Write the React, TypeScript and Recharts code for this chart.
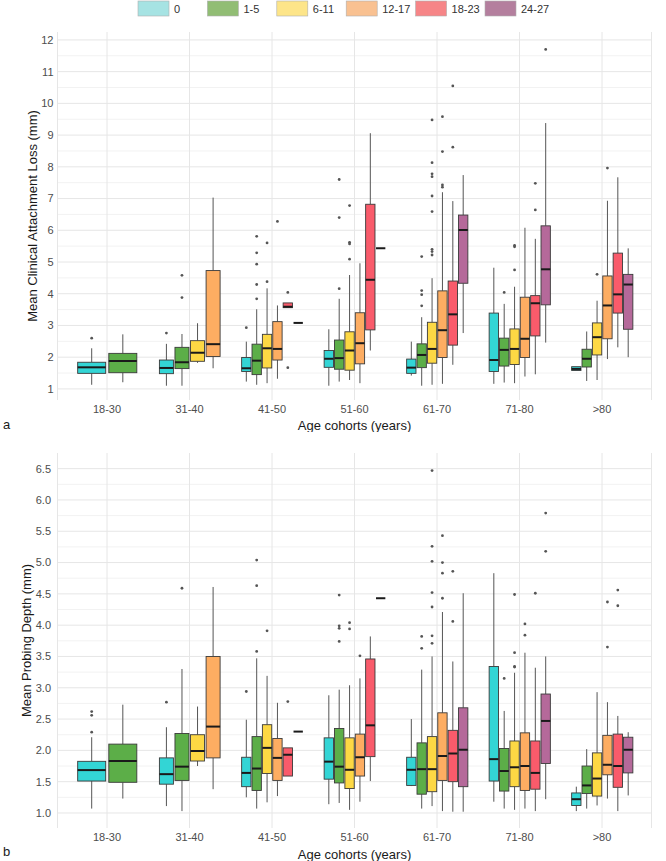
import { ComposedChart, Bar, XAxis, YAxis, CartesianGrid } from "recharts"

const cohorts = ["18-30", "31-40", "41-50", "51-60", "61-70", "71-80", ">80"]
const toothGroups = ["0", "1-5", "6-11", "12-17", "18-23", "24-27"]
const boxFills = ["#33d5d5", "#5cae48", "#fdd844", "#fdad62", "#f95b6b", "#b5699a"]
const keyFills = ["#a6e3e3", "#91bd74", "#fde589", "#f9c191", "#f68587", "#b47f9e"]

// [lower whisker, q1, median, q3, upper whisker, outliers], one entry per cohort
type Stat = [number, number, number, number, number, number[]] | null

// a: mean clinical attachment loss (mm)
const cal0: Stat[] = [
  [1.13, 1.49, 1.68, 1.84, 2.28, [2.6]],
  [1.1, 1.48, 1.66, 1.91, 2.42, [2.76]],
  [1.23, 1.55, 1.65, 1.99, 2.49, [2.93]],
  [1.1, 1.68, 1.95, 2.21, 2.88, []],
  [1.42, 1.49, 1.67, 1.94, 2.49, []],
  [1.16, 1.55, 1.91, 3.39, 4.82, []],
  [1.58, 1.58, 1.63, 1.7, 1.7, []],
]
const cal1to5: Stat[] = [
  [1.21, 1.51, 1.88, 2.12, 2.72, []],
  [1.1, 1.64, 1.84, 2.31, 2.73, [3.88, 4.58]],
  [1.13, 1.45, 1.89, 2.41, 3.51, [3.84, 4.29, 4.93, 5.29, 5.81]],
  [1.23, 1.62, 1.97, 2.54, 3.84, [4.16, 6.4, 7.6]],
  [1.1, 1.67, 2.07, 2.42, 3.26, [3.62, 3.97, 4.1, 5.17]],
  [1.2, 1.72, 2.23, 2.6, 3.68, [4.04]],
  [1.25, 1.69, 1.95, 2.25, 2.81, []],
]
const cal6to11: Stat[] = [
  null,
  [1.82, 1.87, 2.14, 2.52, 3.07, []],
  [1.18, 1.66, 2.28, 2.72, 4.17, [4.38, 5.6]],
  [1.28, 1.59, 2.21, 2.8, 4.59, [5.09, 5.57, 5.62, 6.78]],
  [1.13, 1.81, 2.26, 3.1, 4.49, [5.22, 5.33, 5.4, 6.59, 7.08, 7.69, 7.78, 8.13, 9.48]],
  [1.18, 1.77, 2.26, 2.89, 4.22, [4.75, 5.48, 5.52]],
  [1.28, 2.07, 2.63, 3.08, 3.78, [4.61]],
]
const cal12to17: Stat[] = [
  null,
  [1.65, 2.02, 2.41, 4.73, 7.03, []],
  [1.32, 1.91, 2.26, 3.12, 3.63, [6.28]],
  [1.18, 1.79, 2.44, 3.4, 4.96, []],
  [1.16, 1.99, 2.85, 4.09, 7.2, [7.36, 7.43, 8.48, 9.58]],
  [1.39, 1.99, 2.58, 3.89, 6.08, []],
  [1.94, 2.58, 3.63, 4.56, 6.93, [7.96]],
]
const cal18to23: Stat[] = [
  null,
  null,
  [3.56, 3.56, 3.59, 3.71, 3.71, [1.67, 4.04]],
  [2.21, 2.86, 4.44, 6.82, 9.06, []],
  [1.76, 2.38, 3.35, 4.4, 6.92, [8.62, 10.55]],
  [1.46, 2.67, 3.7, 3.94, 5.73, [6.64, 7.48]],
  [2.31, 3.39, 3.98, 5.28, 7.67, []],
]
const cal24to27: Stat[] = [
  null,
  null,
  [3.08, 3.08, 3.08, 3.08, 3.08, []],
  [5.43, 5.43, 5.43, 5.43, 5.43, []],
  [2.76, 4.33, 6.01, 6.48, 7.74, []],
  [2.46, 3.65, 4.77, 6.14, 9.38, [11.7]],
  [2.0, 2.88, 4.29, 4.61, 5.43, []],
]

// b: mean probing depth (mm)
const pd0: Stat[] = [
  [1.07, 1.51, 1.685, 1.825, 2.21, [2.29, 2.56, 2.62]],
  [1.11, 1.46, 1.62, 1.88, 2.37, [2.77]],
  [1.25, 1.42, 1.64, 1.89, 2.49, [2.94]],
  [1.14, 1.54, 1.82, 2.2, 2.88, []],
  [1.43, 1.44, 1.69, 1.89, 2.5, []],
  [1.18, 1.51, 1.86, 3.34, 4.83, []],
  [1.03, 1.12, 1.22, 1.32, 1.42, []],
]
const pd1to5: Stat[] = [
  [1.23, 1.49, 1.83, 2.1, 2.73, []],
  [1.03, 1.52, 1.74, 2.27, 3.3, [4.59]],
  [1.07, 1.36, 1.71, 2.22, 3.47, [3.58, 4.63, 5.04]],
  [1.16, 1.48, 1.74, 2.35, 2.97, [3.74, 3.95, 3.99, 4.48]],
  [1.07, 1.3, 1.7, 2.12, 3.29, [3.63, 3.82]],
  [1.07, 1.35, 1.67, 2.03, 2.63, [3.15]],
  [1.07, 1.31, 1.44, 1.75, 2.02, []],
]
const pd6to11: Stat[] = [
  null,
  [1.75, 1.83, 1.99, 2.25, 2.7, []],
  [1.17, 1.63, 2.04, 2.41, 3.19, [3.91]],
  [1.05, 1.39, 1.69, 2.2, 3.04, [3.94, 4.04]],
  [1.11, 1.34, 1.7, 2.22, 3.5, [3.71, 3.83, 4.29, 4.52, 5.02, 5.26, 6.47]],
  [1.05, 1.42, 1.73, 2.15, 3.24, [3.33, 3.34, 3.56, 4.49]],
  [1.12, 1.27, 1.55, 1.96, 2.93, []],
]
const pd12to17: Stat[] = [
  null,
  [1.38, 1.88, 2.38, 3.5, 4.61, []],
  [1.27, 1.52, 1.88, 2.19, 2.76, []],
  [1.18, 1.59, 1.89, 2.26, 3.15, [3.51]],
  [1.03, 1.52, 1.91, 2.6, 4.21, [4.43, 4.83, 5.0, 5.43]],
  [1.07, 1.36, 1.75, 2.28, 3.56, [3.84, 4.02]],
  [1.23, 1.61, 1.77, 2.24, 2.77, [3.65, 4.37]],
]
const pd18to23: Stat[] = [
  null,
  null,
  [1.59, 1.59, 1.93, 2.04, 2.04, [2.78]],
  [1.51, 1.9, 2.4, 3.46, 3.82, []],
  [1.02, 1.5, 1.95, 2.32, 3.42, [4.06, 4.86]],
  [1.03, 1.38, 1.64, 2.15, 3.32, [4.51]],
  [1.03, 1.41, 1.75, 2.26, 2.55, [4.31, 4.56]],
]
const pd24to27: Stat[] = [
  null,
  null,
  [2.3, 2.3, 2.3, 2.3, 2.3, []],
  [4.43, 4.43, 4.43, 4.43, 4.43, []],
  [1.02, 1.42, 2.01, 2.68, 4.51, []],
  [1.22, 1.79, 2.47, 2.9, 3.5, [5.18, 5.79]],
  [1.28, 1.64, 2.01, 2.21, 2.29, []],
]

const calDomain: [number, number] = [0.65, 12.25]
const calTicks = [1, 2, 3, 4, 5, 6, 7, 8, 9, 10, 11, 12]
const calMinor = [1.5, 2.5, 3.5, 4.5, 5.5, 6.5, 7.5, 8.5, 9.5, 10.5, 11.5]
const pdDomain: [number, number] = [0.76, 6.75]
const pdTicks = [1, 1.5, 2, 2.5, 3, 3.5, 4, 4.5, 5, 5.5, 6, 6.5]
const pdMinor = [1.25, 1.75, 2.25, 2.75, 3.25, 3.75, 4.25, 4.75, 5.25, 5.75, 6.25]

const FONT = "'Liberation Sans', Arial, Helvetica, sans-serif"

function buildRows(series: Stat[][], domain: [number, number]) {
  return cohorts.map((cohort, c) => ({
    cohort,
    span: domain,
    boxes: series
      .map((s, idx) => ({ idx, s: s[c] }))
      .filter((b) => b.s !== null),
  }))
}

// the bar spans the whole y domain, so its geometry gives the y scale
function makeBoxShape(domain: [number, number]) {
  return (props: any) => {
    const { x, y, width, height, payload } = props
    const toY = (v: number) => y + (height * (domain[1] - v)) / (domain[1] - domain[0])
    const boxes = payload.boxes as { idx: number; s: Stat }[]
    const slot = (width * 0.75) / boxes.length
    const bw = slot * 0.9
    const start = x + width / 2 - width * 0.375
    return (
      <g>
        {boxes.map((b, i) => {
          const [lo, q1, med, q3, hi, out] = b.s as [number, number, number, number, number, number[]]
          const cx = start + slot * (i + 0.5)
          const left = cx - bw / 2
          return (
            <g key={i}>
              <line x1={cx} x2={cx} y1={toY(hi)} y2={toY(q3)} stroke="#555" strokeWidth={1} />
              <line x1={cx} x2={cx} y1={toY(q1)} y2={toY(lo)} stroke="#555" strokeWidth={1} />
              <rect
                x={left}
                y={toY(q3)}
                width={bw}
                height={toY(q1) - toY(q3)}
                fill={boxFills[b.idx]}
                stroke="#3a3a3a"
                strokeWidth={0.9}
              />
              <line x1={left} x2={left + bw} y1={toY(med)} y2={toY(med)} stroke="#1a1a1a" strokeWidth={2} />
              {out.map((o, k) => (
                <circle key={k} cx={cx} cy={toY(o)} r={1.4} fill="#555" />
              ))}
            </g>
          )
        })}
      </g>
    )
  }
}

interface PanelProps {
  series: Stat[][]
  domain: [number, number]
  ticks: number[]
  minor: number[]
  yLabel: string
  labelX: number
  top: number
  height: number
  marginTop: number
  xAxisHeight: number
  tickMargin: number
  decimals: number
}

function Panel(p: PanelProps) {
  const rows = buildRows(p.series, p.domain)
  const midY = (p.marginTop + p.height - p.xAxisHeight) / 2
  return (
    <div style={{ position: "absolute", left: 0, top: p.top }}>
      <ComposedChart
        width={666}
        height={p.height}
        data={rows}
        margin={{ top: p.marginTop, right: 14.5, bottom: 0, left: 0 }}
        barCategoryGap={0}
      >
        <CartesianGrid horizontalValues={p.minor} vertical={false} stroke="#f2f2f2" strokeWidth={1} />
        <CartesianGrid horizontalValues={p.ticks} stroke="#e6e6e6" strokeWidth={1} />
        <XAxis
          dataKey="cohort"
          interval={0}
          padding={{ left: 8.25, right: 8.25 }}
          axisLine={false}
          tickLine={false}
          tickSize={0}
          tickMargin={5}
          height={p.xAxisHeight}
          tick={{ fontSize: 11, fill: "#4d4d4d" }}
          label={{ value: "Age cohorts (years)", position: "insideBottom", offset: 2, fontSize: 13, fill: "#1a1a1a" }}
        />
        <YAxis
          width={57.5}
          type="number"
          domain={p.domain}
          ticks={p.ticks}
          allowDataOverflow
          axisLine={false}
          tickLine={false}
          tickSize={0}
          tickMargin={p.tickMargin}
          tick={{ fontSize: 11, fill: "#4d4d4d" }}
          tickFormatter={(v: number) => v.toFixed(p.decimals)}
          label={{
            content: () => (
              <text
                x={p.labelX}
                y={midY}
                transform={`rotate(-90, ${p.labelX}, ${midY})`}
                textAnchor="middle"
                dominantBaseline="central"
                fontSize={13}
                fill="#1a1a1a"
              >
                {p.yLabel}
              </text>
            ),
          }}
        />
        <Bar dataKey="span" isAnimationActive={false} shape={makeBoxShape(p.domain)} />
      </ComposedChart>
    </div>
  )
}

function Legend() {
  return (
    <svg width={666} height={20} style={{ position: "absolute", left: 0, top: 0 }}>
      {toothGroups.map((g, i) => {
        const x = 138 + i * 69.4
        return (
          <g key={g}>
            <rect x={x} y={1} width={31} height={15} fill={keyFills[i]} stroke="#b0b0b0" strokeWidth={0.6} />
            <text x={x + 36} y={8.5} dominantBaseline="central" fontSize={11} fill="#333">
              {g}
            </text>
          </g>
        )
      })}
    </svg>
  )
}

export default function App() {
  return (
    <div
      style={{
        position: "absolute",
        left: 0,
        top: 0,
        width: 666,
        height: 861,
        background: "#fff",
        fontFamily: FONT,
      }}
    >
      <Legend />
      <Panel
        series={[cal0, cal1to5, cal6to11, cal12to17, cal18to23, cal24to27]}
        domain={calDomain}
        ticks={calTicks}
        minor={calMinor}
        yLabel="Mean Clinical Attachment Loss (mm)"
        labelX={32.5}
        top={0}
        height={432}
        marginTop={32}
        xAxisHeight={32}
        tickMargin={4}
        decimals={0}
      />
      <Panel
        series={[pd0, pd1to5, pd6to11, pd12to17, pd18to23, pd24to27]}
        domain={pdDomain}
        ticks={pdTicks}
        minor={pdMinor}
        yLabel="Mean Probing Depth (mm)"
        labelX={26}
        top={432}
        height={429}
        marginTop={21}
        xAxisHeight={33}
        tickMargin={6.5}
        decimals={1}
      />
      <div style={{ position: "absolute", left: 3, top: 417, fontSize: 13, lineHeight: "16px", color: "#1a1a1a" }}>a</div>
      <div style={{ position: "absolute", left: 3, top: 844, fontSize: 13, lineHeight: "16px", color: "#1a1a1a" }}>b</div>
    </div>
  )
}
